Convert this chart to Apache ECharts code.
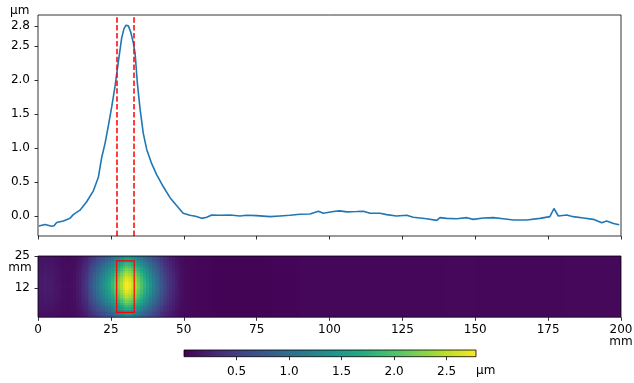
<!DOCTYPE html>
<html><head><meta charset="utf-8">
<script src="https://cdn.jsdelivr.net/npm/echarts@6/dist/echarts.min.js"></script>
<style>html,body{margin:0;padding:0;background:#fff}#c{width:634px;height:383px}</style>
</head><body><div id="c"></div>
<script>
// ---- profile (top panel), x in mm, y in µm ----
const profileX = [0.3, 2.4, 4.7, 5.5, 6.4, 8.7, 11, 12.1, 14.4, 16.7, 19, 20.7, 21.8, 23, 24.1, 25.3, 26.4, 27.5, 28.7, 29.5, 30.2, 31, 31.8, 32.7, 33.3, 34.1, 35, 36.1, 37.3, 39, 40.7, 43, 45.3, 47.6, 49.8, 52.1, 54, 56.2, 57.9, 59.6, 62.4, 65.9, 69.3, 71.6, 75, 79.6, 83, 86.4, 89.9, 93.3, 96.2, 97.9, 101.3, 103.6, 105.9, 109.3, 111.6, 113.9, 117.3, 119.6, 123, 126.5, 128.7, 133.3, 136.8, 137.9, 140.2, 143.6, 147.1, 149.3, 152.8, 156.2, 159.6, 163.1, 167.6, 172.2, 175.6, 177, 178.5, 181.4, 183.6, 187.1, 190.5, 193.4, 195.1, 197.4, 199.4];
const profileY = [-0.147, -0.125, -0.15, -0.145, -0.095, -0.075, -0.035, 0.02, 0.085, 0.21, 0.37, 0.57, 0.85, 1.07, 1.32, 1.61, 1.90, 2.25, 2.62, 2.76, 2.81, 2.80, 2.71, 2.55, 2.40, 1.95, 1.58, 1.22, 0.98, 0.77, 0.61, 0.43, 0.27, 0.15, 0.04, 0.01, -0.005, -0.035, -0.02, 0.015, 0.01, 0.015, 0, 0.01, 0.005, -0.01, 0, 0.01, 0.025, 0.03, 0.07, 0.04, 0.065, 0.075, 0.06, 0.065, 0.07, 0.04, 0.04, 0.02, 0, 0.01, -0.02, -0.04, -0.065, -0.025, -0.035, -0.04, -0.025, -0.05, -0.03, -0.025, -0.04, -0.06, -0.06, -0.035, -0.01, 0.11, 0, 0.015, -0.01, -0.03, -0.05, -0.1, -0.075, -0.11, -0.13];
const markerX = [27, 33];
const topYTicks = [0, 0.5, 1, 1.5, 2, 2.5, 2.8];

// ---- map (bottom panel) ----
const heatColEdges = [0,1,2,3,4,5,6,7,8,9,10,11,12,13,14,15,16,17,18,19,20,21,22,23,24,25,26,27,28,29,30,31,32,33,34,35,36,37,38,39,40,41,42,43,44,45,46,47,48,49,50,51,52,53,54,55,56,57,58,59,60,70,80,90,100,110,120,130,140,150,160,170,180,190,200];
const heatColValues = [0.2,0.2,0.22,0.2,0.2,0.18,0.16,0.14,0.1,0.1,0.09,0.1,0.12,0.18,0.25,0.35,0.45,0.6,0.75,0.9,1.05,1.2,1.35,1.5,1.65,1.85,2.05,2.25,2.45,2.65,2.78,2.72,2.58,2.4,2.2,2.0,1.8,1.6,1.4,1.2,1.05,0.9,0.75,0.6,0.48,0.38,0.3,0.22,0.15,0.1,0.07,0.06,0.05,0.05,0.04,0.04,0.03,0.03,0.03,0.03,
  0.02,0.02,0.03,0.05,0.05,0.05,0.05,0.05,0.06,0.05,0.05,0.05,0.06,0.06];
const heatRowEdges = [0,1,2,3,4,5,6,7,8,9,10,11,12,13,14,15,16,17,18,19,20,21,22,23,24,25];
const heatRowFactors = [0.42,0.48,0.55,0.61,0.67,0.73,0.79,0.84,0.89,0.93,0.96,0.985,1.0,1.0,0.985,0.96,0.93,0.89,0.84,0.79,0.73,0.67,0.61,0.55,0.48];
const heatBackground = 0.05;
const roiX = [27, 33];
const roiY = [2, 23];
const heatYTicks = [12, 25];
const colorMin = 0, colorMax = 2.78;
const colorbarTicks = [0.5, 1, 1.5, 2, 2.5];

const viridis = ['#440154','#482475','#414487','#355f8d','#2a788e','#21918c','#22a884','#44bf70','#7ad151','#bddf26','#fde725'];

const lineData = profileX.map((x, i) => [x, profileY[i]]);
const heatData = [];
for (let i = 0; i < heatColValues.length; i++) {
  for (let j = 0; j < heatRowFactors.length; j++) {
    const c = heatColValues[i];
    const base = Math.min(c, heatBackground);
    heatData.push([heatColEdges[i], heatColEdges[i+1], heatRowEdges[j], heatRowEdges[j+1], base + (c - base) * heatRowFactors[j]]);
  }
}

const FONT = 'DejaVu Sans';
const lbl = {color: '#000', fontFamily: FONT, fontSize: 12};
const tick = {show: true, length: 3.5, lineStyle: {color: '#000', width: 0.8}};

const chart = echarts.init(document.getElementById('c'), null, {renderer: 'canvas'});
chart.setOption({
  animation: false,
  backgroundColor: '#fff',
  grid: [
    {left: 38, top: 15, width: 583, height: 221, show: true, borderColor: '#000', borderWidth: 0.8, backgroundColor: 'transparent', outerBoundsMode: 'none', z: 10},
    {left: 38, top: 256, width: 583, height: 61.3, show: true, borderColor: '#000', borderWidth: 0.8, backgroundColor: 'transparent', outerBoundsMode: 'none', z: 10},
    {left: 184, top: 350, width: 292, height: 6.7, show: true, borderColor: '#000', borderWidth: 0.8,
      backgroundColor: new echarts.graphic.LinearGradient(0, 0, 1, 0, viridis.map((c, i) => ({offset: i / (viridis.length - 1), color: c}))), outerBoundsMode: 'none'}
  ],
  xAxis: [
    {gridIndex: 0, type: 'value', min: 0, max: 200, interval: 25, axisLine: {show: false, onZero: false}, axisTick: tick, axisLabel: {show: false}, splitLine: {show: false}},
    {gridIndex: 1, type: 'value', min: 0, max: 200, interval: 25, axisLine: {show: false, onZero: false}, axisTick: tick, axisLabel: Object.assign({margin: 7}, lbl), splitLine: {show: false}},
    {gridIndex: 2, type: 'value', min: colorMin, max: colorMax, axisLine: {show: false, onZero: false},
      axisTick: Object.assign({customValues: colorbarTicks}, tick),
      axisLabel: Object.assign({margin: 9, customValues: colorbarTicks, formatter: v => v.toFixed(1)}, lbl), splitLine: {show: false}}
  ],
  yAxis: [
    {gridIndex: 0, type: 'value', min: -0.295, max: 2.96, axisLine: {show: false, onZero: false},
      axisTick: Object.assign({customValues: topYTicks}, tick),
      axisLabel: Object.assign({margin: 8, customValues: topYTicks, formatter: v => v.toFixed(1)}, lbl), splitLine: {show: false}},
    {gridIndex: 1, type: 'value', min: 0, max: 25, axisLine: {show: false, onZero: false},
      axisTick: Object.assign({customValues: heatYTicks}, tick),
      axisLabel: Object.assign({margin: 8, customValues: heatYTicks}, lbl), splitLine: {show: false}},
    {gridIndex: 2, type: 'value', min: 0, max: 1, show: false}
  ],
  visualMap: {
    type: 'continuous', show: false, min: colorMin, max: colorMax, dimension: 4, seriesIndex: 1,
    inRange: {color: viridis}
  },
  series: [
    {type: 'line', xAxisIndex: 0, yAxisIndex: 0, data: lineData, showSymbol: false, symbol: 'none',
      lineStyle: {color: '#1f77b4', width: 1.6}, z: 3,
      markLine: {silent: true, symbol: 'none', label: {show: false},
        lineStyle: {color: '#ff0000', width: 1.5, type: [5.5, 2.4]},
        data: markerX.map(x => ({xAxis: x}))}},
    {type: 'custom', xAxisIndex: 1, yAxisIndex: 1, data: heatData, clip: true,
      encode: {x: [0, 1], y: [2, 3]},
      renderItem: function (params, api) {
        const p0 = api.coord([api.value(0), api.value(3)]);
        const p1 = api.coord([api.value(1), api.value(2)]);
        const x0 = Math.round(p0[0]), x1 = Math.round(p1[0]);
        const y0 = Math.round(p0[1]), y1 = Math.round(p1[1]);
        return {type: 'rect', shape: {x: x0, y: y0, width: x1 - x0, height: y1 - y0},
          style: {fill: api.visual('color')}};
      }},
    {type: 'custom', xAxisIndex: 1, yAxisIndex: 1, data: [[roiX[0], roiX[1], roiY[0], roiY[1]]], z: 5,
      renderItem: function (params, api) {
        const p0 = api.coord([api.value(0), api.value(3)]);
        const p1 = api.coord([api.value(1), api.value(2)]);
        return {type: 'rect', shape: {x: p0[0], y: p0[1], width: p1[0] - p0[0], height: p1[1] - p0[1]},
          style: {fill: null, stroke: '#ff0000', lineWidth: 1.2}};
      }}
  ],
  graphic: [
    {type: 'text', left: 10, top: 5, style: {text: 'µm', font: '12px "DejaVu Sans"', fill: '#000'}},
    {type: 'text', x: 20, y: 268, style: {text: 'mm', font: '12px "DejaVu Sans"', fill: '#000', align: 'center', verticalAlign: 'middle'}},
    {type: 'text', x: 621, y: 342, style: {text: 'mm', font: '12px "DejaVu Sans"', fill: '#000', align: 'center', verticalAlign: 'middle'}},
    {type: 'text', x: 476, y: 371, style: {text: 'µm', font: '12px "DejaVu Sans"', fill: '#000', align: 'left', verticalAlign: 'middle'}}
  ]
});
</script></body></html>
